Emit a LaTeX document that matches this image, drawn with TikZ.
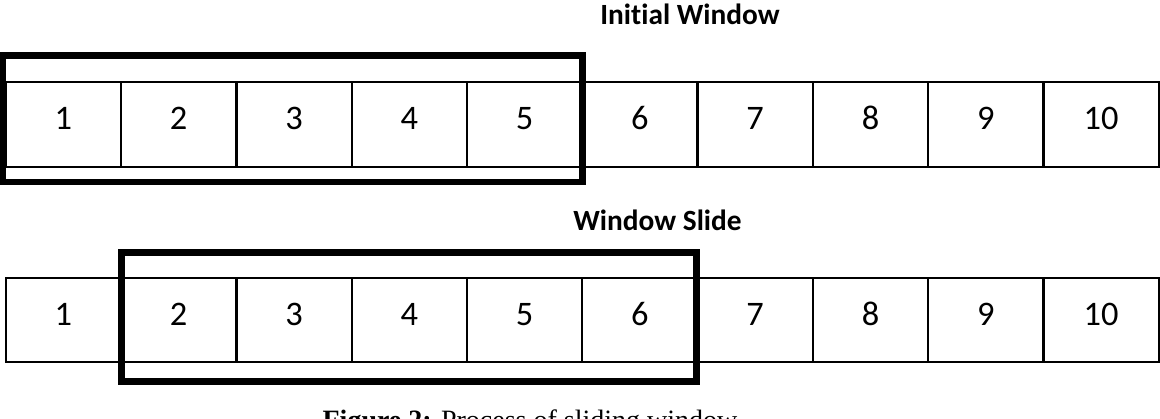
\documentclass[tikz,border=0pt]{standalone}
\usepackage{fontspec}
\setmainfont{Carlito}[Ligatures=NoCommon]
\newfontfamily\capfont{Liberation Serif}
\usepackage{tikz}
\usetikzlibrary{calc}

\tikzset{
    cell/.style={draw, line width=1.7pt, minimum width=86.5pt, minimum height=63.5pt,
        inner sep=0pt, text height=16.5pt, text depth=9pt, font=\fontsize{25.8}{30}\selectfont},
    window/.style={draw, line width=5.2pt},
    heading/.style={font=\fontsize{22}{26}\selectfont\bfseries}
}

\begin{document}
\begin{tikzpicture}[x=0.75pt, y=-0.75pt]
        \useasboundingbox (0,0) rectangle (1160,418);

        % first row
        \node[cell] (a1) at (63.4,124.5) {1};
        \node[cell] (a2) at (178.7,124.5) {2};
        \node[cell] (a3) at (294.0,124.5) {3};
        \node[cell] (a4) at (409.3,124.5) {4};
        \node[cell] (a5) at (524.6,124.5) {5};
        \node[cell] (a6) at (639.9,124.5) {6};
        \node[cell] (a7) at (755.2,124.5) {7};
        \node[cell] (a8) at (870.5,124.5) {8};
        \node[cell] (a9) at (985.8,124.5) {9};
        \node[cell] (a10) at (1101.1,124.5) {10};

        % second row
        \node[cell] (b1) at (63.4,320) {1};
        \node[cell] (b2) at (178.7,320) {2};
        \node[cell] (b3) at (294.0,320) {3};
        \node[cell] (b4) at (409.3,320) {4};
        \node[cell] (b5) at (524.6,320) {5};
        \node[cell] (b6) at (639.9,320) {6};
        \node[cell] (b7) at (755.2,320) {7};
        \node[cell] (b8) at (870.5,320) {8};
        \node[cell] (b9) at (985.8,320) {9};
        \node[cell] (b10) at (1101.1,320) {10};

        \node[heading] (init) at (690,14) {Initial Window};
        \node[heading] (slide) at (657.5,220) {Window Slide};

        \draw[window] ($(a1.north west)+(-2,-26)$) rectangle ($(a5.south east)+(-1,14)$);
        \draw[window] ($(b2.north west)+(2,-24)$) rectangle ($(b6.south east)+(-2,18)$);

        \node[anchor=base, font=\capfont\fontsize{21}{25}\selectfont] (caption) at (530,429)
            {\textbf{Figure 2:} Process of sliding window};
    \end{tikzpicture}
\end{document}
